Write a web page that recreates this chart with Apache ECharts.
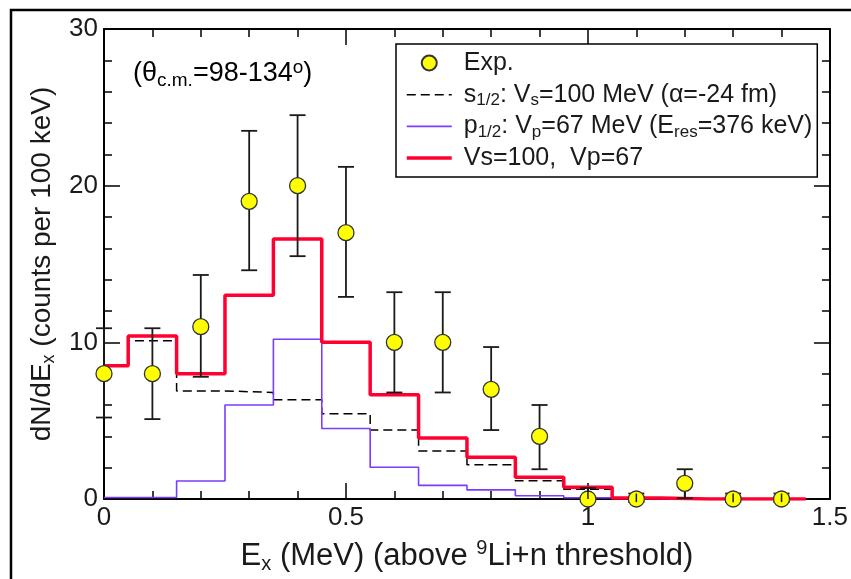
<!DOCTYPE html>
<html><head><meta charset="utf-8">
<script src="https://cdn.jsdelivr.net/npm/echarts@6/dist/echarts.min.js"></script>
<style>html,body{margin:0;padding:0;background:#fff}#c{width:851px;height:579px}</style>
</head><body><div id="c"></div>
<script>
// Experimental points
const expX = [0, 0.1, 0.2, 0.3, 0.4, 0.5, 0.6, 0.7, 0.8, 0.9, 1.0, 1.1, 1.2, 1.3, 1.4];
const expY = [8, 8, 11, 19, 20, 17, 10, 10, 7, 4, 0, 0, 1, 0, 0];
const errLow = [5.2, 5.1, 7.8, 14.6, 15.5, 12.9, 6.8, 6.8, 4.4, 1.9, 0, -0.2, 0.05, -0.2, -0.2];
const errHigh = [10.9, 10.9, 14.3, 23.5, 24.5, 21.2, 13.2, 13.2, 9.7, 6.0, 0.7, 0.35, 1.9, 0.35, 0.35];
// Histogram bin edges and contents
const binEdges = [0, 0.05, 0.15, 0.25, 0.35, 0.45, 0.55, 0.65, 0.75, 0.85, 0.95, 1.05, 1.15, 1.25, 1.35, 1.45];
const sWave = [8.5, 10.1, 6.9, 6.8, 6.33, 5.44, 4.41, 3.07, 2.18, 1.17, 0.62, 0.05, 0, 0, 0];
const pWave = [0.1, 0.1, 1.15, 6.0, 10.2, 4.5, 2.03, 0.87, 0.58, 0.21, 0.08, 0.02, 0, 0, 0];
const total = [8.5, 10.4, 8.0, 13.0, 16.6, 10.0, 6.65, 3.9, 2.67, 1.39, 0.75, 0.06, 0, 0, 0];
// Axis ticks
const xMin = 0, xMax = 1.5, xStep = 0.5;
const yMin = 0, yMax = 30, yStep = 10;

const FF = "'Liberation Sans', Arial, Helvetica, sans-serif";
const TXT = '#1a1a1a';

function stepData(vals) {
  return binEdges.map((e, i) => [e, vals[Math.min(i, vals.length - 1)]]);
}

const richCommon = (base, lh, subScale) => {
  const k = subScale || 0.66;
  return {
    sub: { fontFamily: FF, color: TXT, fontSize: Math.round(base * k), lineHeight: Math.round(base * 0.6), verticalAlign: 'bottom' },
    sup: { fontFamily: FF, color: TXT, fontSize: Math.round(base * k), lineHeight: Math.round(base * 0.6), verticalAlign: 'top' },
    n: { fontFamily: FF, color: TXT, fontSize: base, lineHeight: lh }
  };
};

const legendNames = {
  'exp': '{n|Exp.}',
  's': '{n|s}{sub|1/2}{n|: V}{sub|s}{n|=100 MeV (α=-24 fm)}',
  'p': '{n|p}{sub|1/2}{n|: V}{sub|p}{n|=67 MeV (E}{sub|res}{n|=376 keV)}',
  'sp': '{n|Vs=100,  Vp=67}'
};

const chart = echarts.init(document.getElementById('c'), null, { renderer: 'canvas' });

const axisCommon = {
  axisLine: { show: true, onZero: false, lineStyle: { color: '#000', width: 2 } },
  axisTick: { show: true, inside: true, length: 16, lineStyle: { color: '#000', width: 1.5 } },
  minorTick: { show: true, splitNumber: 5, length: 8, lineStyle: { color: '#000', width: 1.5 } },
  splitLine: { show: false },
  minorSplitLine: { show: false }
};

const option = {
  animation: false,
  backgroundColor: '#fff',
  grid: { left: 104, right: 21, top: 29, bottom: 80, containLabel: false },
  xAxis: [
    Object.assign({
      type: 'value', min: xMin, max: xMax, interval: xStep, position: 'bottom',
      axisLabel: { fontFamily: FF, fontSize: 26, color: TXT, margin: 6 },
      name: '{n|E}{sub|x}{n| (MeV) (above }{sup|9}{n|Li+n threshold)}',
      nameLocation: 'middle', nameGap: 39,
      nameTextStyle: { fontFamily: FF, fontSize: 31, color: TXT, rich: richCommon(31, 36) }
    }, axisCommon),
    Object.assign({
      type: 'value', min: xMin, max: xMax, interval: xStep, position: 'top',
      axisLabel: { show: false }
    }, axisCommon)
  ],
  yAxis: [
    Object.assign({
      type: 'value', min: yMin, max: yMax, interval: yStep, position: 'left',
      axisLabel: { fontFamily: FF, fontSize: 26, color: TXT, margin: 6 },
      name: '{n|dN/dE}{sub|x}{n| (counts per 100 keV)}',
      nameLocation: 'middle', nameGap: 40, nameRotate: 90,
      nameTextStyle: { fontFamily: FF, fontSize: 28, color: TXT, rich: richCommon(28, 32) }
    }, axisCommon),
    Object.assign({
      type: 'value', min: yMin, max: yMax, interval: yStep, position: 'right',
      axisLabel: { show: false }
    }, axisCommon)
  ],
  legend: {
    show: true,
    orient: 'vertical',
    left: 396, top: 44,
    padding: [5, 5, 5, 9],
    itemGap: 3.7,
    itemWidth: 45, itemHeight: 15,
    borderColor: '#000', borderWidth: 1.5, borderRadius: 0,
    backgroundColor: '#fff',
    selectedMode: false,
    textStyle: { fontFamily: FF, fontSize: 25, color: TXT, lineHeight: 28, padding: [0, 0, 0, 7], rich: richCommon(25, 28) },
    formatter: (name) => legendNames[name],
    data: [
      { name: 'exp', icon: 'circle' },
      { name: 's', itemStyle: { opacity: 0 }, lineStyle: { width: 1.5 } },
      { name: 'p', itemStyle: { opacity: 0 }, lineStyle: { width: 1.6 } },
      { name: 'sp', itemStyle: { opacity: 0 }, lineStyle: { width: 3.5 } }
    ]
  },
  graphic: [
    {
      type: 'polyline', silent: true, z: 100,
      shape: { points: [[11, 600], [11, 10], [860, 10]] },
      style: { stroke: '#000', lineWidth: 2.5, fill: null }
    },
    {
      type: 'text', left: 133, top: 58, silent: true, z: 100,
      style: {
        text: '{n|(θ}{sub|c.m.}{n|=98-134}{sup|o}{n|)}',
        rich: richCommon(27, 32, 0.7)
      }
    }
  ],
  series: [
    {
      name: 's', type: 'line', step: 'end', symbol: 'none', z: 2,
      lineStyle: { color: '#000', width: 1.5, type: [9, 5] },
      itemStyle: { color: '#000' },
      data: stepData(sWave)
    },
    {
      name: 'p', type: 'line', step: 'end', symbol: 'none', z: 2,
      lineStyle: { color: '#7a3cff', width: 1.6 },
      itemStyle: { color: '#7a3cff' },
      data: stepData(pWave)
    },
    {
      name: 'sp', type: 'line', step: 'end', symbol: 'none', z: 3,
      lineStyle: { color: '#ff0030', width: 3.5 },
      itemStyle: { color: '#ff0030' },
      data: stepData(total)
    },
    {
      type: 'custom', z: 4, clip: false,
      encode: { x: 0, y: [1, 2] },
      data: expX.map((x, i) => [x, errLow[i], errHigh[i]]),
      renderItem: (params, api) => {
        const x = api.value(0), lo = api.value(1), hi = api.value(2);
        const a = api.coord([x, hi]), b = api.coord([x, lo]);
        const w = 8, st = { stroke: '#1a1a1a', lineWidth: 1.8 };
        return {
          type: 'group', children: [
            { type: 'line', shape: { x1: a[0], y1: a[1], x2: b[0], y2: b[1] }, style: st },
            { type: 'line', shape: { x1: a[0] - w, y1: a[1], x2: a[0] + w, y2: a[1] }, style: st },
            { type: 'line', shape: { x1: b[0] - w, y1: b[1], x2: b[0] + w, y2: b[1] }, style: st }
          ]
        };
      }
    },
    {
      name: 'exp', type: 'scatter', z: 5, clip: false,
      symbol: 'circle', symbolSize: 16,
      itemStyle: { color: '#ffff00', borderColor: '#333', borderWidth: 1.3, opacity: 1 },
      data: expX.map((x, i) => [x, expY[i]])
    },
    {
      type: 'custom', z: 6, clip: false,
      encode: { x: 0, y: [1, 2] },
      data: expX.map((x, i) => [x, errLow[i], errHigh[i], expY[i]]).filter(d => d[3] === 0),
      renderItem: (params, api) => {
        const x = api.value(0), lo = api.value(1), hi = api.value(2);
        const a = api.coord([x, hi]), b = api.coord([x, lo]);
        return { type: 'line', shape: { x1: a[0], y1: a[1], x2: b[0], y2: b[1] }, style: { stroke: '#1a1a1a', lineWidth: 1.5 } };
      }
    }
  ]
};
chart.setOption(option);
</script></body></html>
